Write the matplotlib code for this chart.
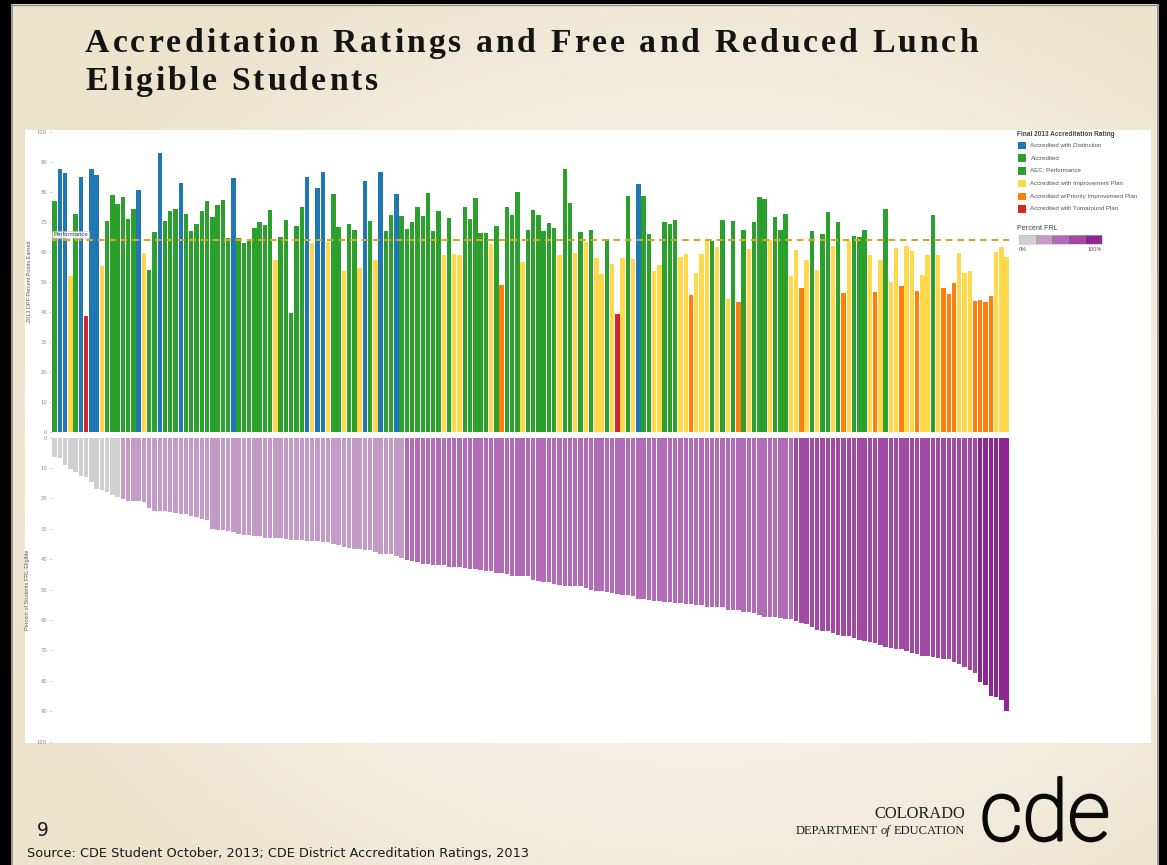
import numpy as np
import matplotlib
matplotlib.use('Agg')
import matplotlib.pyplot as plt
import matplotlib.patheffects as pe
from matplotlib.patches import Rectangle
from matplotlib.font_manager import FontProperties, findfont, get_font

W, H = 1167, 865

# accreditation rating per district: D distinction, A accredited, P improvement,
# R priority improvement, T turnaround
rating_codes = list(
    "ADDPADTDDP" "AAAAAADPAA" "DAAADAAAAA" "AAAADAAAAA" "AAPAAAAADP"
    "DDPAAPAAPD" "APDAADAAAA" "AAAAPAPPAA" "AAAPARAAAP" "AAAAAAPAAP"
    "APAPPAPTPA" "PDAAPPAAAP" "PRPPPAPAPA" "RAPAAAPAAA" "PPRPAPAAPA"
    "RPAAAPRPAP" "PRPPRPPAPR" "RRPPPRRRRP" "PP")

# 2013 DPF percent points earned
points_earned = [
    77, 87.6, 86.1, 52, 72.5, 84.9, 38.7, 87.5, 85.7, 55.4,
    70.3, 79, 75.8, 78.4, 70.8, 74.2, 80.6, 59.5, 54.1, 66.5,
    92.8, 70.3, 73.6, 74.2, 82.9, 72.5, 67, 69.2, 73.6, 76.9,
    71.5, 75.5, 77.3, 64.5, 84.5, 64.5, 63, 64.3, 68, 70,
    69, 73.8, 57.4, 64.9, 70.5, 39.6, 68.7, 74.8, 85, 63.1,
    81.3, 86.5, 63.3, 79.4, 68.2, 53.7, 69.2, 67.2, 54.7, 83.5,
    70.4, 57.4, 86.5, 67.1, 72.1, 79.4, 71.8, 67.5, 69.8, 74.8,
    71.8, 79.7, 67, 73.7, 58.9, 71.2, 59.2, 58.9, 74.8, 71.1,
    77.8, 66.4, 66.4, 62.5, 68.6, 48.9, 74.8, 72.1, 79.9, 56.7,
    67.2, 73.9, 72.1, 67, 69.6, 68, 58.9, 87.6, 76.2, 59.5,
    66.5, 63.4, 67.2, 58, 52.7, 64.2, 56, 39.2, 58, 78.7,
    57.5, 82.7, 78.7, 65.9, 53.7, 55.8, 69.8, 69.3, 70.5, 58.3,
    59.3, 45.8, 53, 59.3, 63.6, 63.6, 61.6, 70.7, 44.3, 70.3,
    43.2, 67.3, 61.1, 69.8, 78.4, 77.5, 64.1, 71.5, 67.3, 72.6,
    52, 60.6, 47.9, 57.4, 67, 54, 65.9, 73.1, 62.1, 69.8,
    46.2, 63.6, 65.3, 65.1, 67.3, 59, 46.6, 57.4, 74.2, 50.1,
    61.4, 48.7, 61.8, 60.3, 47, 52.3, 59, 72.4, 58.9, 48,
    46.1, 49.7, 59.6, 53.1, 53.5, 43.6, 44, 43.3, 45.3, 60,
    61.6, 58.4]

# percent of students FRL eligible
frl_pct = [
    6.4, 6.8, 9.2, 10.4, 11.5, 12.5, 12.9, 14.7, 16.9, 17.3,
    18, 18.8, 19.5, 20.3, 20.8, 21, 21, 21.1, 23.1, 24.1,
    24.2, 24.2, 24.6, 24.8, 25, 25.2, 25.8, 26, 26.9, 27.3,
    30.2, 30.5, 30.5, 30.7, 31.2, 31.8, 32.1, 32.1, 32.4, 32.5,
    33, 33.1, 33.1, 33.2, 33.5, 33.6, 33.8, 33.8, 33.9, 34,
    34.2, 34.4, 34.4, 35, 35.5, 35.9, 36.3, 36.7, 36.8, 37,
    37.1, 37.7, 38.2, 38.3, 38.3, 39.1, 39.7, 40.2, 40.7, 40.9,
    41.5, 41.7, 41.8, 41.9, 42, 42.6, 42.6, 42.7, 42.9, 43.1,
    43.1, 43.6, 43.8, 43.9, 44.6, 44.7, 44.8, 45.4, 45.6, 45.6,
    45.6, 46.8, 47.1, 47.5, 47.6, 48.2, 48.6, 48.7, 48.8, 48.9,
    48.9, 49.5, 50.3, 50.5, 50.6, 50.7, 51, 51.5, 51.7, 51.7,
    52, 53, 53.1, 53.3, 53.7, 53.8, 54, 54.1, 54.3, 54.4,
    54.7, 54.9, 55, 55.2, 55.6, 55.8, 55.9, 55.9, 56.7, 56.9,
    56.9, 57.4, 57.5, 57.7, 58.5, 58.9, 59, 59.1, 59.4, 59.7,
    59.8, 60.2, 61.1, 61.2, 62.2, 63.3, 63.6, 63.7, 64.2, 65,
    65.2, 65.4, 66, 66.6, 67.1, 67.3, 67.6, 68.1, 68.8, 69.4,
    69.6, 69.7, 70.1, 70.8, 71.3, 71.8, 72, 72.3, 72.5, 72.8,
    73, 73.7, 74.4, 75.6, 76.5, 77.4, 80.3, 81.4, 84.9, 85.3,
    86.2, 90]

performance_cut = 63.8

legend_labels = ["Accredited with Distinction", "Accredited", "AEC: Performance",
                 "Accredited with Improvement Plan",
                 "Accredited w/Priority Improvement Plan",
                 "Accredited with Turnaround Plan"]
legend_codes = ["D", "A", "A", "P", "R", "T"]
rating_colors = {"D": "#1f77b4", "A": "#2ca02c", "P": "#ffd84c",
                 "R": "#ff7f0e", "T": "#d62728"}
frl_bins = [20, 40, 60, 80]
frl_colors = ["#d0d0d0", "#c39bc7", "#b26bb6", "#a04aa4", "#8e2794"]

title_lines = ["Accreditation Ratings and Free and Reduced Lunch",
               "Eligible Students"]
source_text = "Source: CDE Student October, 2013; CDE District Accreditation Ratings, 2013"

fig = plt.figure(figsize=(W / 100, H / 100), dpi=100)
renderer = fig.canvas.get_renderer()

# slide background in pixel coords (y down)
bg = fig.add_axes([0, 0, 1, 1], zorder=0)
yy, xx = np.mgrid[0:H, 0:W]
d = np.clip(np.hypot((xx - 700) / 760, (yy - 470) / 560), 0, 1)
light = np.array([250, 249, 244]) / 255
dark = np.array([236, 227, 204]) / 255
bg.imshow(light + (dark - light) * (d ** 1.4)[..., None],
          extent=(0, W, H, 0), aspect='auto', interpolation='bilinear')
bg.set_xlim(0, W)
bg.set_ylim(H, 0)
bg.axis('off')

# dark frame around slide
for r in [(0, 0, W, 4), (0, 0, 11, H), (1159, 0, 8, H)]:
    bg.add_patch(Rectangle(r[:2], r[2], r[3], color='black', lw=0))
bg.plot([12, 12], [5, H], color='#8c8c8c', lw=1.2)
bg.plot([12, 1158], [5, 5], color='#8c8c8c', lw=1.0)
bg.plot([1158, 1158], [5, H], color='#8c8c8c', lw=1.2)

# white chart panel
bg.add_patch(Rectangle((25, 130), 1126, 613, color='white', lw=0))

# title with letter spacing
tprop = FontProperties(family=['Liberation Serif', 'DejaVu Serif'], weight='bold', size=24.3)
tfont = get_font(findfont(tprop))
tfont.set_size(24.3, 100)


def advances(s):
    out = []
    for ch in s:
        g = tfont.load_char(ord(ch))
        out.append(g.linearHoriAdvance / 65536)
    return out


adv1 = advances(title_lines[0])
spacing = (893 - sum(adv1)) / (len(title_lines[0]) - 1)
for line, base in zip(title_lines, [52, 90]):
    x = 85
    for ch, a in zip(line, advances(line)):
        if ch != ' ':
            bg.text(x, base, ch, fontproperties=tprop, color='#141414',
                    ha='left', va='baseline')
        x += a + spacing


def px_axes(x0, y0, x1, y1):
    return fig.add_axes([x0 / W, 1 - y1 / H, (x1 - x0) / W, (y1 - y0) / H], zorder=2)


n = len(points_earned)
xpos = np.arange(n)

top = px_axes(51.9, 131.6, 1009.2, 432.3)
top.bar(xpos, points_earned, width=0.84,
        color=[rating_colors[c] for c in rating_codes], lw=0)
top.axhline(performance_cut, color='#d4a72a', lw=1.5, dashes=(3.2, 2.3))
top.set_ylim(0, 100)

bot = px_axes(51.9, 437.5, 1009.2, 741.5)
frl_idx = np.digitize(frl_pct, frl_bins)
bot.bar(xpos, frl_pct, width=0.84, color=[frl_colors[i] for i in frl_idx], lw=0)
bot.set_ylim(100, 0)

for ax in (top, bot):
    ax.set_xlim(-0.5, n - 0.5)
    ax.set_facecolor('none')
    for s in ax.spines.values():
        s.set_visible(False)
    ax.set_xticks([])
    ax.set_yticks(range(0, 101, 10))
    ax.tick_params(axis='y', length=2.5, width=0.5, color='#c8c8c8',
                   labelsize=3.8, labelcolor='#8c8c8c', pad=1)

top.text(53, 234.5, "Performance", transform=bg.transData, fontsize=4.4,
         color='#444444', va='center', ha='left', family='Liberation Sans',
         bbox=dict(boxstyle='square,pad=0.15', fc='white', ec='#bbbbbb', lw=0.4, alpha=0.85))

bg.text(30, 281, "2013 DPF Percent Points Earned", rotation=90, fontsize=4.0,
        color='#555555', ha='center', va='center', family='Liberation Sans')
bg.text(28, 590, "Percent of Students FRL-Eligible", rotation=90, fontsize=4.0,
        color='#555555', ha='center', va='center', family='Liberation Sans')

# legend
bg.text(1017, 135, "Final 2013 Accreditation Rating", fontsize=4.7, weight='bold',
        color='#444444', va='center', family='Liberation Sans')
for k, (lab, code) in enumerate(zip(legend_labels, legend_codes)):
    y = 145.5 + 12.7 * k
    bg.add_patch(Rectangle((1018, y - 3.8), 7.7, 7.7, color=rating_colors[code], lw=0))
    bg.text(1030.5, y, lab, fontsize=4.4, color='#555555', va='center',
            family='Liberation Sans')
bg.text(1017, 228.5, "Percent FRL", fontsize=5.2, color='#444444', va='center',
        family='Liberation Sans')
seg = (1102.3 - 1019) / len(frl_colors)
for k, c in enumerate(frl_colors):
    bg.add_patch(Rectangle((1019 + k * seg, 235), seg, 9, color=c, lw=0))
bg.add_patch(Rectangle((1019, 235), 1102.3 - 1019, 9, fill=False, ec='#bbbbbb', lw=0.4))
bg.text(1019, 249.5, "0%", fontsize=4.0, color='#555555', va='center', family='Liberation Sans')
bg.text(1102, 249.5, "100%", fontsize=4.0, color='#555555', va='center', ha='right',
        family='Liberation Sans')

# footer
bg.text(37, 836, "9", fontsize=13.5, color='#1a1a1a', va='baseline', family='DejaVu Sans')
bg.text(27, 857, source_text, fontsize=9.3, color='#1a1a1a', va='baseline',
        family='DejaVu Sans')

bg.text(965, 818, "COLORADO", fontsize=11.8, color='#1a1a1a', ha='right', va='baseline',
        family='Liberation Serif')
t = bg.text(965, 834, "EDUCATION", fontsize=9, color='#1a1a1a', ha='right', va='baseline',
            family='Liberation Serif')
x_left = t.get_window_extent(renderer).x0
t = bg.text(x_left - 3, 834, "of", fontsize=9, style='italic', color='#1a1a1a', ha='right',
            va='baseline', family='Liberation Serif')
x_left = t.get_window_extent(renderer).x0
bg.text(x_left - 3, 834, "DEPARTMENT", fontsize=9, color='#1a1a1a', ha='right',
        va='baseline', family='Liberation Serif')
bg.text(980, 840, "cde", fontsize=60, color='#0a0a0a', ha='left', va='baseline',
        family='Roboto', weight='light',
        path_effects=[pe.withStroke(linewidth=2.2, foreground='#0a0a0a')])

fig.savefig('out.png', dpi=100)
